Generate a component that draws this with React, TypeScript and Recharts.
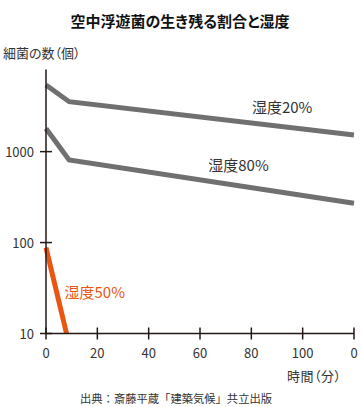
import React from 'react'
import { LineChart, Line, XAxis, YAxis, ReferenceDot } from 'recharts'

// survival counts (log scale)
const humidity20Minutes = [0, 9, 120]
const humidity20Counts = [5400, 3540, 1520]
const humidity80Minutes = [0, 9, 120]
const humidity80Counts = [1800, 810, 271]
const humidity50Minutes = [0, 8]
const humidity50Counts = [88, 10]

const xTicks = [0, 20, 40, 60, 80, 100, 120]
// the right-most label is cut off in the source picture
const xTickLabels = ['0', '20', '40', '60', '80', '100', '0']
const yTicks = [10, 100, 1000]

const seriesLabels = [
  { text: '湿度20%', minute: 92, count: 3060, color: '#333333' },
  { text: '湿度80%', minute: 75, count: 697, color: '#333333' },
  { text: '湿度50%', minute: 19, count: 28, color: '#e95513' },
]

const toPoints = (minutes: number[], counts: number[]) =>
  minutes.map((m, i) => ({ minute: m, count: counts[i] }))

const FONT = '"Noto Sans CJK JP", "Noto Sans", sans-serif'
const AXIS_COLOR = '#231815'
const AXIS_X = 46
const AXIS_Y = 333.5

const XTick = (props: any) => {
  const { x, payload, index } = props
  return (
    <g>
      <line x1={x} x2={x} y1={AXIS_Y - 6} y2={AXIS_Y + 6} stroke={AXIS_COLOR} strokeWidth={1.5} />
      <text x={x} y={AXIS_Y + 19} textAnchor="middle" dominantBaseline="central" fontSize={13} fill="#333" fontFamily={FONT}>
        {xTickLabels[index] ?? payload.value}
      </text>
    </g>
  )
}

const YTick = (props: any) => {
  const { y, payload } = props
  return (
    <g>
      <line x1={AXIS_X - 6} x2={AXIS_X + 6} y1={y} y2={y} stroke={AXIS_COLOR} strokeWidth={1.5} />
      <text x={AXIS_X - 12} y={y} textAnchor="end" dominantBaseline="central" fontSize={13} fill="#333" fontFamily={FONT}>
        {payload.value}
      </text>
    </g>
  )
}

const textStyle: React.CSSProperties = {
  position: 'absolute',
  fontFamily: FONT,
  fontFeatureSettings: '"palt"',
  color: '#333',
  whiteSpace: 'nowrap',
  lineHeight: 1,
}

export default function App() {
  return (
    <div style={{ position: 'absolute', left: 0, top: 0, width: 362, height: 407, background: '#fff' }}>
      <div style={{ ...textStyle, top: 13, left: 0, width: 360, textAlign: 'center', fontSize: 15, fontWeight: 'bold', color: '#111' }}>
        空中浮遊菌の生き残る割合と湿度
      </div>
      <div style={{ ...textStyle, top: 46, left: 3, fontSize: 13 }}>細菌の数（個）</div>

      <LineChart width={362} height={407} margin={{ top: 69.5, right: 8, bottom: 43.5, left: 0 }}>
        <XAxis
          dataKey="minute"
          type="number"
          domain={[0, 120]}
          ticks={xTicks}
          height={30}
          tickLine={false}
          axisLine={{ stroke: AXIS_COLOR, strokeWidth: 1.5 }}
          tick={<XTick />}
          interval={0}
        />
        <YAxis
          dataKey="count"
          type="number"
          scale="log"
          domain={[10, 8000]}
          allowDataOverflow
          ticks={yTicks}
          width={46}
          tickLine={false}
          axisLine={{ stroke: AXIS_COLOR, strokeWidth: 1.5 }}
          tick={<YTick />}
          interval={0}
        />
        <Line
          data={toPoints(humidity20Minutes, humidity20Counts)}
          dataKey="count"
          stroke="#717071"
          strokeWidth={5}
          dot={false}
          isAnimationActive={false}
        />
        <Line
          data={toPoints(humidity80Minutes, humidity80Counts)}
          dataKey="count"
          stroke="#717071"
          strokeWidth={5}
          dot={false}
          isAnimationActive={false}
        />
        <Line
          data={toPoints(humidity50Minutes, humidity50Counts)}
          dataKey="count"
          stroke="#e95513"
          strokeWidth={5}
          dot={false}
          isAnimationActive={false}
        />
        {seriesLabels.map((l) => (
          <ReferenceDot
            key={l.text}
            x={l.minute}
            y={l.count}
            r={0}
            fill="none"
            stroke="none"
            label={{ value: l.text, position: 'center', fill: l.color, fontSize: 15, fontFamily: FONT }}
          />
        ))}
      </LineChart>

      <div style={{ ...textStyle, top: 369, left: 287, fontSize: 13, letterSpacing: 0.5 }}>時間（分）</div>
      <div style={{ ...textStyle, top: 393, left: 80, fontSize: 11.3, fontFeatureSettings: 'normal' }}>
        出典：斎藤平蔵「建築気候」共立出版
      </div>
    </div>
  )
}
